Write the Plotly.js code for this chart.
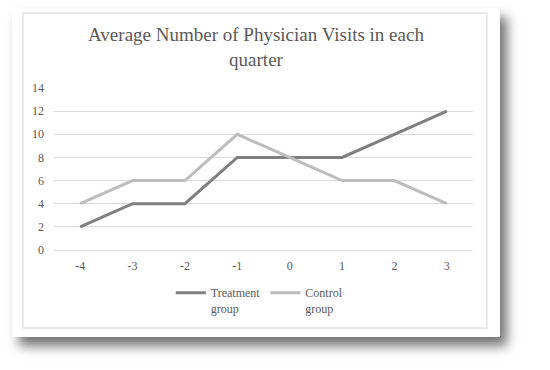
<!DOCTYPE html>
<html>
<head>
<meta charset="utf-8">
<script src="https://cdn.plot.ly/plotly-3.0.1.min.js"></script>
<style>
  html, body { margin: 0; padding: 0; background: #ffffff; width: 550px; height: 370px; overflow: hidden; }
  #frame { position: absolute; left: 12px; top: 8px; width: 488px; height: 329px; background: #ffffff;
           box-shadow: 7px 9px 11px rgba(0,0,0,0.55); }
  #chart { position: absolute; left: 0; top: 0; width: 488px; height: 329px; }
</style>
</head>
<body>
<div id="frame"><div id="chart"></div></div>
<script>
const quarters = ["-4", "-3", "-2", "-1", "0", "1", "2", "3"];
const treatment = [2, 4, 4, 8, 8, 8, 10, 12];
const control = [4, 6, 6, 10, 8, 6, 6, 4];
const yTicks = [0, 2, 4, 6, 8, 10, 12, 14];

const font = "Liberation Serif, Times New Roman, serif";
const traces = [
  { x: quarters, y: treatment, type: "scatter", mode: "lines", name: "Treatment<br>group",
    line: { color: "#7f7f7f", width: 3 } },
  { x: quarters, y: control, type: "scatter", mode: "lines", name: "Control<br>group",
    line: { color: "#bdbdbd", width: 3 } }
];
const layout = {
  width: 488, height: 329,
  margin: { l: 42, r: 27, t: 80, b: 87, autoexpand: false },
  paper_bgcolor: "#ffffff", plot_bgcolor: "#ffffff",
  font: { family: font, color: "#595959", size: 12 },
  title: { text: "Average Number of Physician Visits in each<br>quarter",
           font: { family: font, size: 19, color: "#595959" },
           x: 0.5, xanchor: "center", y: 0.9, yanchor: "top", yref: "container" },
  xaxis: { type: "category", range: [-0.5, quarters.length - 0.5], showgrid: false, zeroline: false,
           showline: false, ticks: "",
           tickfont: { family: font, size: 12, color: "#595959" }, ticklabelstandoff: 7 },
  yaxis: { range: [0, 14], tickvals: yTicks, showgrid: true, gridcolor: "#d9d9d9", gridwidth: 1,
           zeroline: true, zerolinecolor: "#d9d9d9", zerolinewidth: 1, showline: false, ticks: "",
           tickfont: { family: font, size: 12, color: "#595959" }, ticklabelstandoff: 9 },
  showlegend: true,
  legend: { orientation: "h", x: 0.49, xanchor: "center", y: -0.175, yanchor: "top", valign: "top",
            font: { family: font, size: 12, color: "#595959" }, itemwidth: 30, bgcolor: "rgba(0,0,0,0)" },
  shapes: [{ type: "rect", xref: "paper", yref: "paper", x0: -0.074, x1: 1.033, y0: -0.481, y1: 1.463,
             line: { color: "#e3e3e3", width: 1.5 }, fillcolor: "rgba(0,0,0,0)", layer: "below" }]
};
Plotly.newPlot("chart", traces, layout, { displayModeBar: false, staticPlot: true });
</script>
</body>
</html>
